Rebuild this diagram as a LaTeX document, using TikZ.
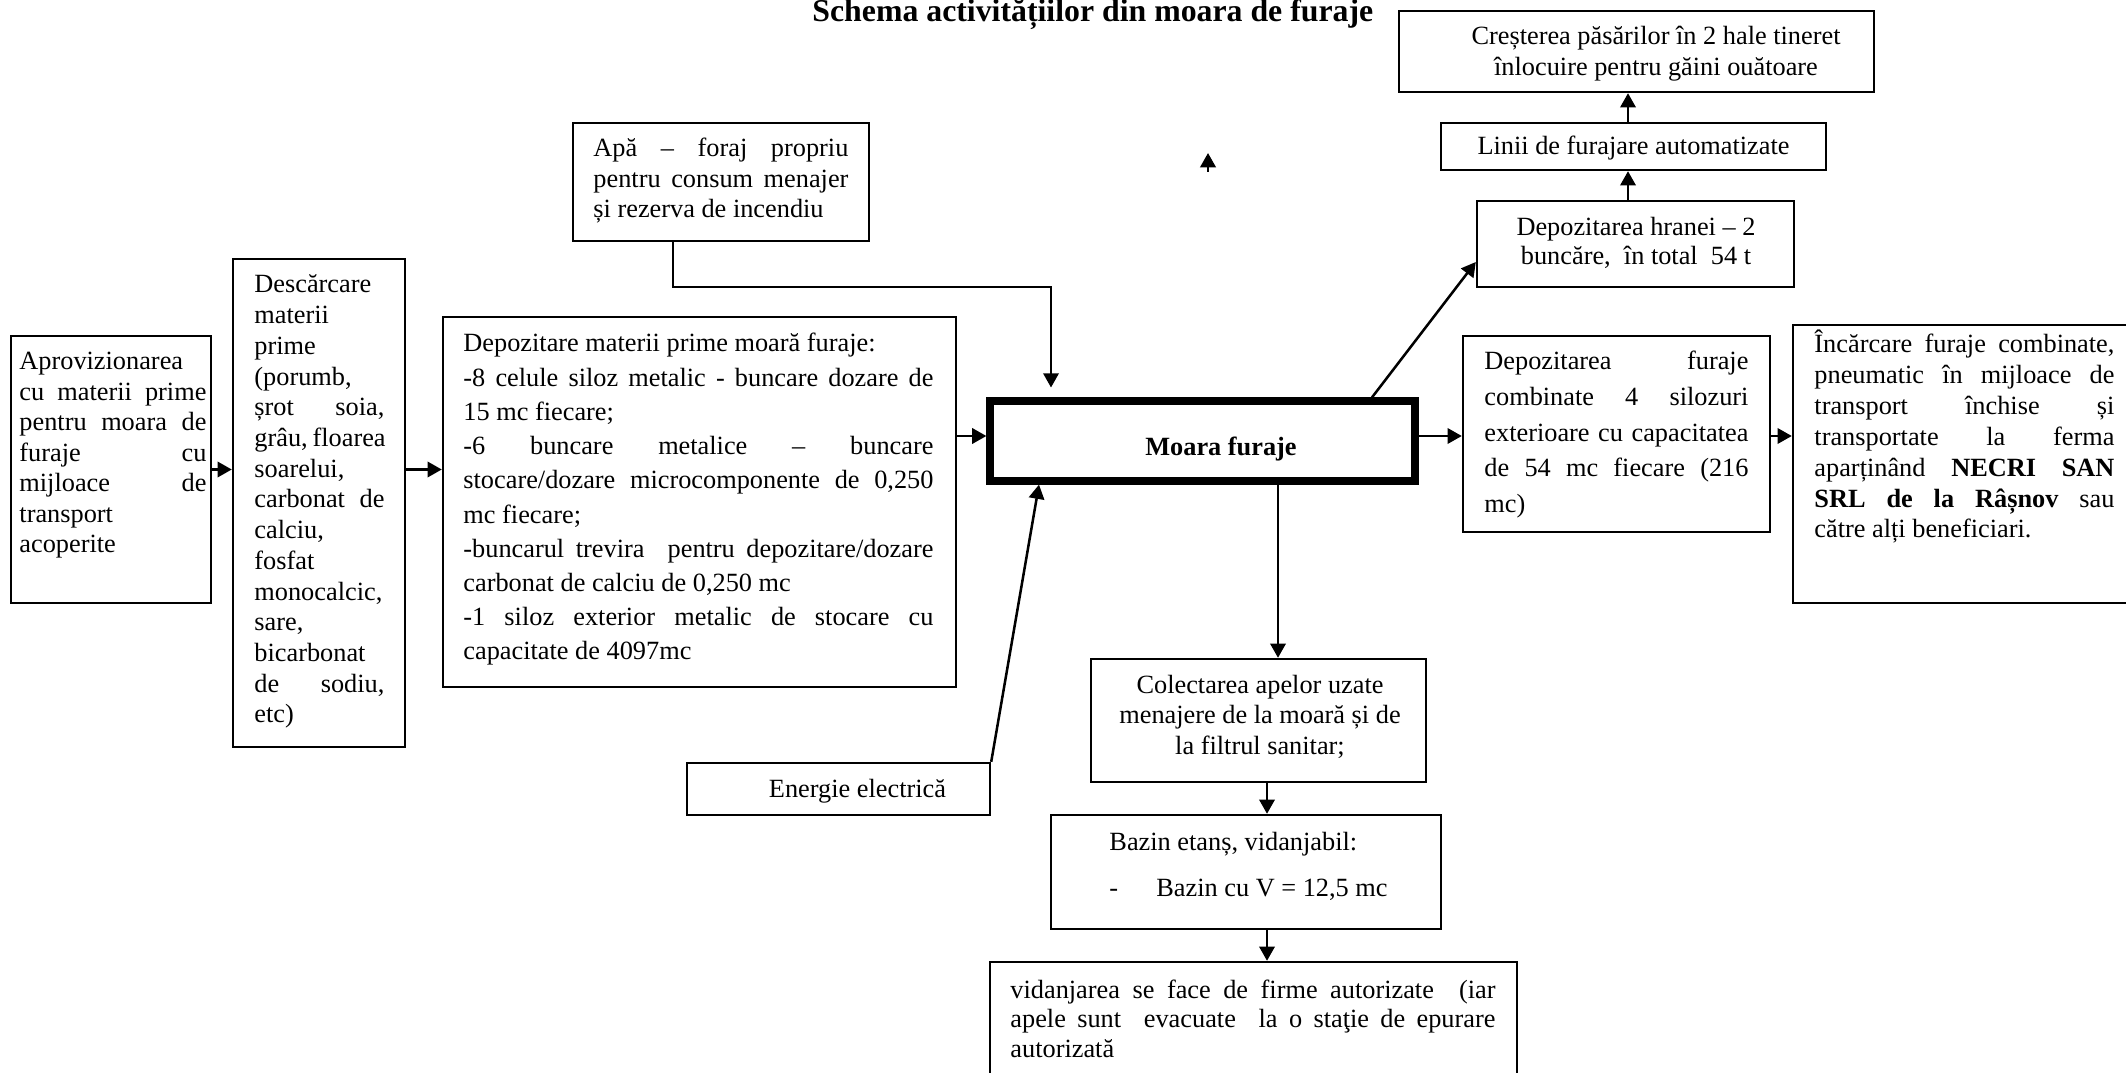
\documentclass[tikz,border=0pt]{standalone}
\usepackage{fontspec}
\setmainfont{Liberation Serif}
\usetikzlibrary{arrows.meta}

% one drawing unit = one pixel of the layout grid
\newdimen\pxu \pxu=0.456pt
% a justified line (spaces stretched to the full width) and a flush-left line
\newcommand{\jline}[1]{\makebox[\linewidth][s]{#1}\par}
\newcommand{\lline}[1]{\makebox[\linewidth][l]{#1}\par}
\hbadness=10000 \hfuzz=6pt

\begin{document}
\begin{tikzpicture}[x=0.456pt, y=-0.456pt,
  font=\fontsize{12pt}{14pt}\selectfont,
  boxn/.style={draw, line width=1.1pt, inner sep=0pt},
  txt/.style={inner sep=0pt, anchor=base west},
  ctxt/.style={inner sep=0pt, anchor=base},
  conn/.style={line width=1.15pt, -{Triangle[length=6.5pt,width=7pt]}}]
\useasboundingbox (0,0) rectangle (2126,1073);
\clip (0,0) rectangle (2126,1073);

% ---------- title ----------
\node[txt, font=\fontsize{14.5pt}{16pt}\selectfont\bfseries] (title) at (812,22)
  {Schema activitățiilor din moara de furaje};

% ---------- boxes ----------
\node[boxn, minimum width=200\pxu, minimum height=267\pxu] (b1) at (111,469.5) {};
\node[boxn, minimum width=172\pxu, minimum height=488\pxu] (b2) at (319,503) {};
\node[boxn, minimum width=513\pxu, minimum height=370\pxu] (b3) at (699.5,502) {};
\node[boxn, minimum width=296\pxu, minimum height=118\pxu] (apa) at (721,182) {};
\node[boxn, line width=3.3pt, minimum width=425\pxu, minimum height=80\pxu] (moara) at (1202.5,441) {};
\node[boxn, minimum width=303\pxu, minimum height=52\pxu] (energie) at (838.5,789) {};
\node[boxn, minimum width=335\pxu, minimum height=123\pxu] (colect) at (1258.5,720.5) {};
\node[boxn, minimum width=390\pxu, minimum height=114\pxu] (bazin) at (1246,872) {};
\node[boxn, minimum width=527\pxu, minimum height=128\pxu] (vidanj) at (1253.5,1026) {};
\node[boxn, minimum width=475\pxu, minimum height=81\pxu] (creste) at (1636.5,51.5) {};
\node[boxn, minimum width=385\pxu, minimum height=47\pxu] (linii) at (1633.5,146.5) {};
\node[boxn, minimum width=317\pxu, minimum height=86\pxu] (hranei) at (1635.5,244) {};
\node[boxn, minimum width=307\pxu, minimum height=196\pxu] (furaje) at (1616.5,434) {};
\node[boxn, minimum width=347\pxu, minimum height=278\pxu] (incarc) at (1966.5,464) {};

% ---------- texts ----------
\node[txt] (b1-t) at (19,370) {\parbox[t]{187\pxu}{\setlength\baselineskip{13.9pt}%
  \lline{Aprovizionarea}
  \jline{cu materii prime}
  \jline{pentru moara de}
  \jline{furaje cu}
  \jline{mijloace de}
  \lline{transport}
  \lline{acoperite}}};

\node[txt] (b2-t) at (254,293) {\parbox[t]{130\pxu}{\setlength\baselineskip{14pt}%
  \lline{Descărcare}
  \lline{materii}
  \lline{prime}
  \lline{(porumb,}
  \jline{șrot soia,}
  \jline{grâu, floarea}
  \lline{soarelui,}
  \jline{carbonat de}
  \lline{calciu,}
  \lline{fosfat}
  \lline{monocalcic,}
  \lline{sare,}
  \lline{bicarbonat}
  \jline{de sodiu,}
  \lline{etc)}}};

\node[txt] (b3-t) at (463,352) {\parbox[t]{470\pxu}{\setlength\baselineskip{15.6pt}%
  \lline{Depozitare materii prime moară furaje:}
  \jline{-8 celule siloz metalic - buncare dozare de}
  \lline{15 mc fiecare;}
  \jline{-6 buncare metalice – buncare}
  \jline{stocare/dozare microcomponente de 0,250}
  \lline{mc fiecare;}
  \jline{-buncarul trevira\ \ pentru depozitare/dozare}
  \lline{carbonat de calciu de 0,250 mc}
  \jline{-1 siloz exterior metalic de stocare cu}
  \lline{capacitate de 4097mc}}};

\node[txt] (apa-t) at (593,157) {\parbox[t]{255\pxu}{\setlength\baselineskip{13.9pt}%
  \jline{Apă – foraj propriu}
  \jline{pentru consum menajer}
  \lline{și rezerva de incendiu}}};

\node[ctxt, font=\fontsize{12pt}{14pt}\selectfont\bfseries] (moara-t) at (1221,455) {Moara furaje};

\node[ctxt] (energie-t) at (857.5,797) {Energie electrică};

\node[ctxt] (colect-t) at (1260,693) {\parbox[t]{330\pxu}{\centering\setlength\baselineskip{14.1pt}%
  Colectarea apelor uzate\\menajere de la moară și de\\la filtrul sanitar;}};

\node[txt] (bazin-t) at (1109,850) {\parbox[t]{320\pxu}{\setlength\baselineskip{21.4pt}%
  Bazin etanș, vidanjabil:\par
  -\hspace{17.4pt}Bazin cu V = 12,5 mc}};

\node[txt] (vidanj-t) at (1010,998) {\parbox[t]{485\pxu}{\setlength\baselineskip{13.5pt}%
  \jline{vidanjarea se face de firme autorizate\ \ (iar}
  \jline{apele sunt\ \ evacuate\ \ la o staţie de epurare}
  \lline{autorizată}}};

\node[ctxt] (creste-t) at (1656,45) {\parbox[t]{460\pxu}{\centering\setlength\baselineskip{13.7pt}%
  Creșterea păsărilor în 2 hale tineret\\înlocuire pentru găini ouătoare}};

\node[ctxt] (linii-t) at (1633.5,155) {Linii de furajare automatizate};

\node[ctxt] (hranei-t) at (1636,236) {\parbox[t]{300\pxu}{\centering\setlength\baselineskip{13.2pt}%
  Depozitarea hranei – 2\\buncăre,\ \ în total\ \ 54 t}};

\node[txt] (furaje-t) at (1484,370) {\parbox[t]{264\pxu}{\setlength\baselineskip{16.2pt}%
  \jline{Depozitarea furaje}
  \jline{combinate 4 silozuri}
  \jline{exterioare cu capacitatea}
  \jline{de 54 mc fiecare (216}
  \lline{mc)}}};

\node[txt] (incarc-t) at (1814,353) {\parbox[t]{300\pxu}{\setlength\baselineskip{14.05pt}%
  \jline{Încărcare furaje combinate,}
  \jline{pneumatic în mijloace de}
  \jline{transport închise și}
  \jline{transportate la ferma}
  \jline{aparținând \textbf{NECRI SAN}}
  \jline{\textbf{SRL de la Râșnov} sau}
  \lline{către alți beneficiari.}}};

% ---------- connectors ----------
\coordinate (yrow) at (0,436);
\draw[conn] (b1.east) -- (b1.east -| b2.west);
\draw[conn] (b2.east |- b1.east) -- (b1.east -| b3.west);
\draw[conn] (b3.east |- yrow) -- (moara.west |- yrow);
\draw[conn] (moara.east |- yrow) -- (furaje.west |- yrow);
\draw[conn] (furaje.east |- yrow) -- (incarc.west |- yrow);

% water supply feed
\coordinate (wA) at (673,287);
\coordinate (wB) at (1051,287);
\draw[conn, shorten >=4.5pt] (apa.south -| wA) -- (wA) -- (wB) -- (wB |- moara.north);

% power feed
\coordinate (xE) at (1039,0);
\draw[conn] (energie.north east) -- (moara.south -| xE);

% waste water chain
\coordinate (xM) at (1278,0);
\coordinate (xC) at (1267,0);
\draw[conn] (moara.south -| xM) -- (colect.north -| xM);
\draw[conn] (colect.south -| xC) -- (bazin.north -| xC);
\draw[conn] (bazin.south -| xC) -- (vidanj.north -| xC);

% feed storage and poultry halls
\coordinate (hx) at (1372,0);
\coordinate (hy) at (0,262);
\draw[conn] (moara.north -| hx) -- (hranei.west |- hy);
\coordinate (xL) at (1628,0);
\draw[conn] (hranei.north -| xL) -- (linii.south -| xL);
\draw[conn] (linii.north -| xL) -- (creste.south -| xL);

% short loose arrow
\coordinate (s1) at (1208,172);
\coordinate (s2) at (1208,153);
\draw[conn] (s1) -- (s2);
\end{tikzpicture}
\end{document}
